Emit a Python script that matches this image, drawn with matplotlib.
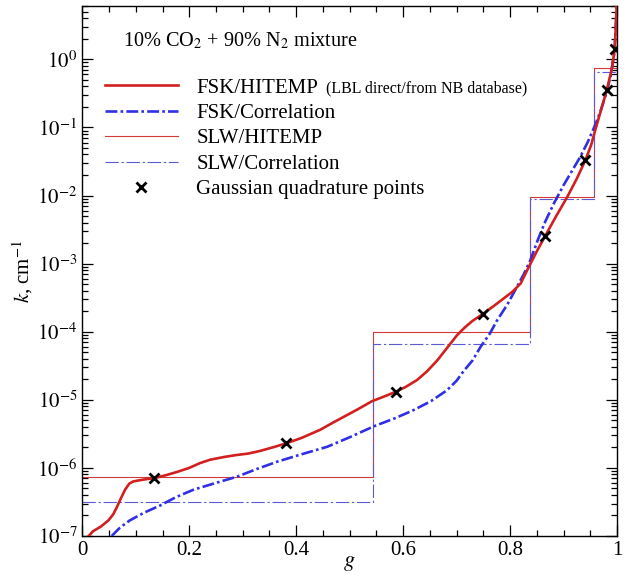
import numpy as np
import matplotlib
matplotlib.use("Agg")
import matplotlib.pyplot as plt
from matplotlib.ticker import FixedLocator, MultipleLocator, FuncFormatter, NullFormatter

plt.rcParams['font.family'] = ['Liberation Serif', 'DejaVu Serif']
plt.rcParams['mathtext.fontset'] = 'stix'

# ---- data ----
# FSK/HITEMP (thick red), log10(k)
g_fsk_hit = [0.012, 0.02, 0.035, 0.049, 0.058, 0.065, 0.072, 0.08, 0.088, 0.095, 0.108,
             0.12, 0.135, 0.155, 0.177, 0.2, 0.22, 0.239, 0.265, 0.289, 0.31, 0.333,
             0.36, 0.381, 0.41, 0.445, 0.47, 0.489, 0.515, 0.542, 0.565, 0.587, 0.605,
             0.626, 0.645, 0.664, 0.683, 0.701, 0.715, 0.73, 0.749, 0.77, 0.79, 0.805, 0.82,
             0.835, 0.85, 0.866, 0.885, 0.907, 0.925, 0.941, 0.952, 0.96, 0.97, 0.981,
             0.99, 0.996, 1.0]
logk_fsk_hit = [-7.0, -6.93, -6.86, -6.77, -6.68, -6.57, -6.45, -6.32, -6.23, -6.20, -6.18,
                -6.165, -6.15, -6.11, -6.06, -6.0, -5.93, -5.88, -5.84, -5.81, -5.79, -5.75,
                -5.69, -5.64, -5.56, -5.44, -5.33, -5.25, -5.14, -5.02, -4.95, -4.88, -4.81,
                -4.71, -4.58, -4.42, -4.23, -4.05, -3.94, -3.84, -3.74, -3.62, -3.50, -3.41, -3.29,
                -3.05, -2.82, -2.59, -2.32, -2.02, -1.75, -1.48, -1.25, -1.02, -0.75, -0.45,
                -0.15, 0.15, 0.9]

# FSK/Correlation (thick blue dash-dot)
g_fsk_cor = [0.055, 0.07, 0.089, 0.115, 0.146, 0.175, 0.208, 0.25, 0.289, 0.325, 0.364,
             0.41, 0.458, 0.5, 0.545, 0.585, 0.62, 0.652, 0.682, 0.70, 0.713, 0.73, 0.745,
             0.762, 0.776, 0.795, 0.813, 0.826, 0.838, 0.852, 0.866, 0.883, 0.90, 0.915,
             0.93, 0.945, 0.96, 0.97, 0.98, 0.988, 0.995, 1.0]
logk_fsk_cor = [-7.0, -6.88, -6.77, -6.66, -6.55, -6.43, -6.32, -6.22, -6.13, -6.02, -5.91,
                -5.80, -5.69, -5.55, -5.39, -5.27, -5.15, -5.02, -4.86, -4.72, -4.58, -4.42,
                -4.22, -4.03, -3.83, -3.60, -3.34, -3.15, -2.95, -2.65, -2.38, -2.10, -1.85,
                -1.65, -1.45, -1.22, -0.95, -0.74, -0.50, -0.25, 0.10, 0.8]

# SLW step edges and levels
g_edges = [0.0, 0.543, 0.837, 0.957, 1.0]
k_slw_hit = [7.4e-7, 1.0e-4, 9.5e-3, 0.74]
k_slw_cor = [3.2e-7, 6.5e-5, 9.0e-3, 0.66]

# Gaussian quadrature points
g_quad = [0.135, 0.381, 0.587, 0.749, 0.866, 0.941, 0.981, 0.996]
logk_quad = [-6.15, -5.64, -4.88, -3.74, -2.59, -1.48, -0.45, 0.15]

x_ticks = [0, 0.2, 0.4, 0.6, 0.8, 1.0]
y_decades = [-7, -6, -5, -4, -3, -2, -1, 0]

# ---- figure ----
W, H = 629, 578
fig = plt.figure(figsize=(W / 100, H / 100), dpi=100)
ax = fig.add_axes([82.3 / W, 1 - 536 / H, (617 - 82.3) / W, (536 - 5.7) / H])

red = '#d21f1f'
blue = '#2f2fe6'
red_thin = '#d23a3a'
blue_thin = '#5a5ad8'

l1, = ax.plot(g_fsk_hit, 10 ** np.array(logk_fsk_hit), color=red, lw=1.9,
              label='FSK/HITEMP', zorder=4)
l2, = ax.plot(g_fsk_cor, 10 ** np.array(logk_fsk_cor), color=blue, lw=1.9,
              dashes=(4.5, 1.2, 1.0, 1.2), label='FSK/Correlation', zorder=3)
l3, = ax.step(g_edges, k_slw_hit + [k_slw_hit[-1]], where='post', color=red_thin, lw=0.8,
              label='SLW/HITEMP', zorder=2)
l4, = ax.step(g_edges, k_slw_cor + [k_slw_cor[-1]], where='post', color=blue_thin, lw=0.8,
              dashes=(12, 2.5, 2, 2.5), label='SLW/Correlation', zorder=2)
l5, = ax.plot(g_quad, 10 ** np.array(logk_quad), ls='none', marker='x', color='black',
              ms=7, mew=2.0, label='Gaussian quadrature points', zorder=5)

ax.set_yscale('log')
ax.set_xlim(0, 1)
ax.set_ylim(1e-7, 10 ** (-7 + (536 - 5.7) / 68.1))

ax.xaxis.set_major_locator(FixedLocator(x_ticks))
ax.xaxis.set_minor_locator(MultipleLocator(0.05))
ax.xaxis.set_major_formatter(FuncFormatter(lambda v, p: '%g' % v))
ax.yaxis.set_major_locator(FixedLocator([10.0 ** d for d in y_decades]))
ax.yaxis.set_major_formatter(FuncFormatter(lambda v, p: '$10^{%d}$' % round(np.log10(v))))
minor_y = [m * 10.0 ** d for d in y_decades for m in range(2, 10)]
ax.yaxis.set_minor_locator(FixedLocator(minor_y))
ax.yaxis.set_minor_formatter(NullFormatter())

ax.tick_params(which='both', direction='in', top=True, right=True, labelsize=15, width=0.9)
ax.tick_params(which='major', length=8)
ax.tick_params(which='minor', length=4.5)
for s in ax.spines.values():
    s.set_linewidth(1.0)

ax.set_xlabel('$g$', fontsize=16, labelpad=-4)
ax.set_ylabel('$k$, cm$^{-1}$', fontsize=15, labelpad=2)

# title inside
fig.text(123 / W, 1 - 46.7 / H, '10% CO$_2$ + 90% N$_2$ mixture', fontsize=14.6,
         ha='left', va='baseline')

leg = ax.legend(handles=[l1, l2, l3, l4, l5], loc='upper left',
                bbox_to_anchor=((105 - 82.3) / (617 - 82.3), 1 - (78 - 5.7) / (536 - 5.7)),
                frameon=False, fontsize=15, handlelength=3.5, handletextpad=0.88,
                labelspacing=0.28, borderpad=0, borderaxespad=0, numpoints=1)

fig.text(326 / W, 1 - 92 / H, '(LBL direct/from NB database)', fontsize=11.5,
         ha='left', va='baseline')

fig.savefig('out.png', dpi=100)
